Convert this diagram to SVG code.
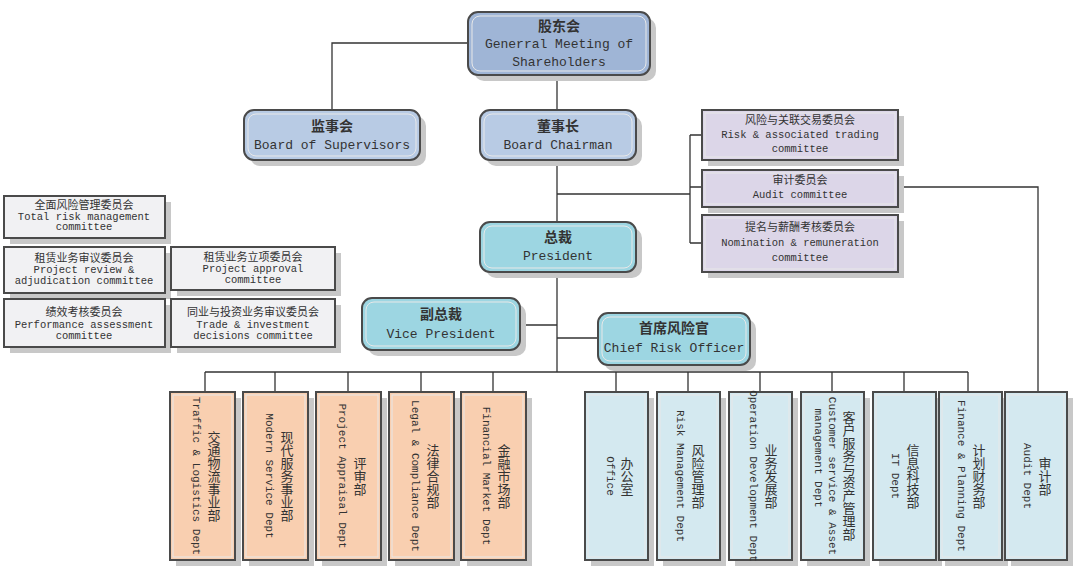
<svg xmlns="http://www.w3.org/2000/svg" width="1080" height="586" viewBox="0 0 1080 586">
<style>
text{font-family:"Liberation Mono","Noto Sans CJK SC",monospace;fill:#333;text-anchor:middle}
.sh{fill:#c8c8c8}
.o{stroke:#4a4a4a;stroke-width:2}
.i{fill:none;stroke:#e8e8e8;stroke-width:1}
.t1{fill:#9fb5d6}.t2{fill:#b8cbe4}.te{fill:#9dd6e2}.pu{fill:#dcd6e8}.gr{fill:#f1f1f3}.or{fill:#f9cfb0}.bl{fill:#d4e9f0}
.c{font-size:14px;font-weight:bold}.e{font-size:13px}.s{font-size:10.5px}.sc{font-size:11px}
.v{writing-mode:vertical-rl;font-size:11px}.vc{writing-mode:vertical-rl;font-size:13px}
.ln{fill:none;stroke:#333;stroke-width:1.3}
</style>
<g id="connectors" class="ln">
<path d="M468 43H332V110"/><path d="M557 75V110"/><path d="M557 160V222"/>
<path d="M557 194H690M690 135V243M690 135H702M690 187H702M690 243H702"/>
<path d="M898 187H1038V392"/>
<path d="M557 272V372"/><path d="M520 325H557"/><path d="M557 338H598"/>
<path d="M205 372H968"/>
<path d="M205 372V392M275 372V392M348 372V392M421 372V392M493 372V392M616 372V392M688 372V392M760 372V392M832 372V392M904 372V392M968 372V392"/>
</g>
<g id="gms"><rect x="474" y="18" width="182" height="63" rx="10" class="sh"/><rect x="468" y="12" width="182" height="63" rx="10" class="t1 o"/><rect x="472" y="16" width="174" height="55" rx="8" class="i"/><text x="559" y="31" class="c">股东会</text><text x="559" y="48" class="e">Generral Meeting of</text><text x="559" y="66" class="e">Shareholders</text></g>
<g id="supervisors"><rect x="250" y="116" width="176" height="50" rx="10" class="sh"/><rect x="244" y="110" width="176" height="50" rx="10" class="t2 o"/><rect x="248" y="114" width="168" height="42" rx="8" class="i"/><text x="332" y="131" class="c">监事会</text><text x="332" y="149" class="e">Board of Supervisors</text></g>
<g id="chairman"><rect x="486" y="116" width="156" height="50" rx="10" class="sh"/><rect x="480" y="110" width="156" height="50" rx="10" class="t2 o"/><rect x="484" y="114" width="148" height="42" rx="8" class="i"/><text x="558" y="131" class="c">董事长</text><text x="558" y="149" class="e">Board Chairman</text></g>
<g id="president"><rect x="486" y="228" width="156" height="50" rx="10" class="sh"/><rect x="480" y="222" width="156" height="50" rx="10" class="te o"/><rect x="484" y="226" width="148" height="42" rx="8" class="i"/><text x="558" y="242" class="c">总裁</text><text x="558" y="260" class="e">President</text></g>
<g id="vp"><rect x="368" y="304" width="158" height="52" rx="10" class="sh"/><rect x="362" y="298" width="158" height="52" rx="10" class="te o"/><rect x="366" y="302" width="150" height="44" rx="8" class="i"/><text x="441" y="319" class="c">副总裁</text><text x="441" y="338" class="e">Vice President</text></g>
<g id="cro"><rect x="604" y="319" width="152" height="52" rx="10" class="sh"/><rect x="598" y="313" width="152" height="52" rx="10" class="te o"/><rect x="602" y="317" width="144" height="44" rx="8" class="i"/><text x="674" y="333" class="c">首席风险官</text><text x="674" y="352" class="e">Chief Risk Officer</text></g>
<g id="c-risk"><rect x="708" y="116" width="196" height="50" class="sh"/><rect x="702" y="110" width="196" height="50" class="pu o"/><rect x="705" y="113" width="190" height="44" class="i"/><text x="800" y="124" class="sc">风险与关联交易委员会</text><text x="800" y="138" class="s">Risk &amp; associated trading</text><text x="800" y="152" class="s">committee</text></g>
<g id="c-audit"><rect x="708" y="176" width="196" height="37" class="sh"/><rect x="702" y="170" width="196" height="37" class="pu o"/><rect x="705" y="173" width="190" height="31" class="i"/><text x="800" y="184" class="sc">审计委员会</text><text x="800" y="198" class="s">Audit committee</text></g>
<g id="c-nom"><rect x="708" y="221" width="196" height="57" class="sh"/><rect x="702" y="215" width="196" height="57" class="pu o"/><rect x="705" y="218" width="190" height="51" class="i"/><text x="800" y="231" class="sc">提名与薪酬考核委员会</text><text x="800" y="246" class="s">Nomination &amp; remuneration</text><text x="800" y="261" class="s">committee</text></g>
<g id="l-total"><rect x="10" y="202" width="161" height="42" class="sh"/><rect x="4" y="196" width="161" height="42" class="gr o"/><text x="84" y="209" class="sc">全面风险管理委员会</text><text x="84" y="220" class="s">Total risk management</text><text x="84" y="230" class="s">committee</text></g>
<g id="l-review"><rect x="10" y="253" width="161" height="46" class="sh"/><rect x="4" y="247" width="161" height="46" class="gr o"/><text x="84" y="262" class="sc">租赁业务审议委员会</text><text x="84" y="273" class="s">Project review &amp;</text><text x="84" y="284" class="s">adjudication committee</text></g>
<g id="l-approval"><rect x="177" y="253" width="164" height="43" class="sh"/><rect x="171" y="247" width="164" height="43" class="gr o"/><text x="253" y="261" class="sc">租赁业务立项委员会</text><text x="253" y="272" class="s">Project approval</text><text x="253" y="283" class="s">committee</text></g>
<g id="l-perf"><rect x="10" y="305" width="161" height="48" class="sh"/><rect x="4" y="299" width="161" height="48" class="gr o"/><text x="84" y="316" class="sc">绩效考核委员会</text><text x="84" y="328" class="s">Performance assessment</text><text x="84" y="339" class="s">committee</text></g>
<g id="l-trade"><rect x="177" y="305" width="164" height="48" class="sh"/><rect x="171" y="299" width="164" height="48" class="gr o"/><text x="253" y="316" class="sc">同业与投资业务审议委员会</text><text x="253" y="328" class="s">Trade &amp; investment</text><text x="253" y="339" class="s">decisions committee</text></g>
<g id="d1"><rect x="176" y="398" width="65" height="168" class="sh"/><rect x="170" y="392" width="65" height="168" class="or o"/><rect x="173" y="395" width="59" height="162" class="i"/><text x="196" y="476" class="v">Traffic &amp; Logistics Dept</text><text x="212" y="476" class="vc">交通物流事业部</text></g>
<g id="d2"><rect x="249" y="398" width="65" height="168" class="sh"/><rect x="243" y="392" width="65" height="168" class="or o"/><rect x="246" y="395" width="59" height="162" class="i"/><text x="269" y="476" class="v">Modern Service Dept</text><text x="285" y="476" class="vc">现代服务事业部</text></g>
<g id="d3"><rect x="322" y="398" width="65" height="168" class="sh"/><rect x="316" y="392" width="65" height="168" class="or o"/><rect x="319" y="395" width="59" height="162" class="i"/><text x="342" y="476" class="v">Project Appraisal Dept</text><text x="358" y="476" class="vc">评审部</text></g>
<g id="d4"><rect x="395" y="398" width="65" height="168" class="sh"/><rect x="389" y="392" width="65" height="168" class="or o"/><rect x="392" y="395" width="59" height="162" class="i"/><text x="415" y="476" class="v">Legal &amp; Compliance Dept</text><text x="431" y="476" class="vc">法律合规部</text></g>
<g id="d5"><rect x="467" y="398" width="65" height="168" class="sh"/><rect x="461" y="392" width="65" height="168" class="or o"/><rect x="464" y="395" width="59" height="162" class="i"/><text x="486" y="476" class="v">Financial Market Dept</text><text x="502" y="476" class="vc">金融市场部</text></g>
<g id="d6"><rect x="591" y="398" width="63" height="168" class="sh"/><rect x="585" y="392" width="63" height="168" class="bl o"/><rect x="588" y="395" width="57" height="162" class="i"/><text x="610" y="476" class="v">Office</text><text x="625" y="476" class="vc">办公室</text></g>
<g id="d7"><rect x="663" y="398" width="63" height="168" class="sh"/><rect x="657" y="392" width="63" height="168" class="bl o"/><rect x="660" y="395" width="57" height="162" class="i"/><text x="680" y="476" class="v">Risk Management Dept</text><text x="696" y="476" class="vc">风险管理部</text></g>
<g id="d8"><rect x="735" y="398" width="63" height="168" class="sh"/><rect x="729" y="392" width="63" height="168" class="bl o"/><rect x="732" y="395" width="57" height="162" class="i"/><text x="753" y="476" class="v">Operation Development Dept</text><text x="769" y="476" class="vc">业务发展部</text></g>
<g id="d9"><rect x="807" y="398" width="63" height="168" class="sh"/><rect x="801" y="392" width="63" height="168" class="bl o"/><rect x="804" y="395" width="57" height="162" class="i"/><text x="818" y="458" class="v">management Dept</text><text x="832" y="476" class="v">Customer service &amp; Asset</text><text x="847" y="476" class="vc">客户服务与资产管理部</text></g>
<g id="d10"><rect x="879" y="398" width="63" height="168" class="sh"/><rect x="873" y="392" width="63" height="168" class="bl o"/><rect x="876" y="395" width="57" height="162" class="i"/><text x="895" y="476" class="v">IT Dept</text><text x="911" y="476" class="vc">信息科技部</text></g>
<g id="d11"><rect x="945" y="398" width="63" height="168" class="sh"/><rect x="939" y="392" width="63" height="168" class="bl o"/><rect x="942" y="395" width="57" height="162" class="i"/><text x="961" y="476" class="v">Finance &amp; Planning Dept</text><text x="977" y="476" class="vc">计划财务部</text></g>
<g id="d12"><rect x="1011" y="398" width="62" height="168" class="sh"/><rect x="1005" y="392" width="62" height="168" class="bl o"/><rect x="1008" y="395" width="56" height="162" class="i"/><text x="1027" y="476" class="v">Audit Dept</text><text x="1043" y="476" class="vc">审计部</text></g>
</svg>
